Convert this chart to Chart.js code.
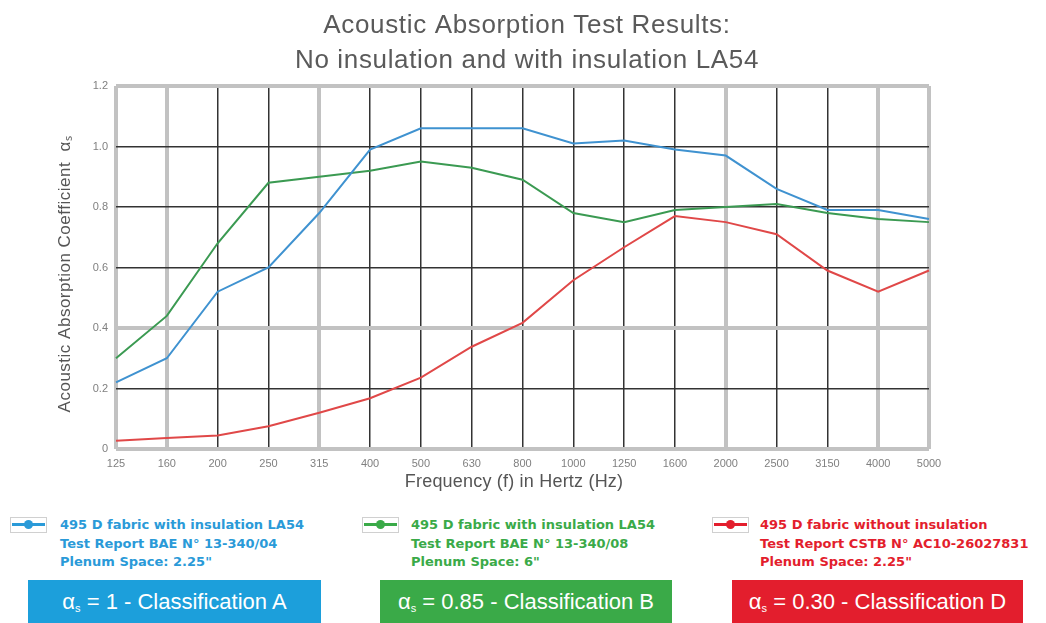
<!DOCTYPE html>
<html><head><meta charset="utf-8">
<script src="https://cdn.jsdelivr.net/npm/chart.js@4.4.1/dist/chart.umd.min.js"></script>
<style>
body{margin:0;background:#fff;width:1046px;height:623px;overflow:hidden;position:relative;font-family:"Liberation Sans",Arial,sans-serif;}
#wrap{position:absolute;left:0;top:0;width:1046px;height:500px;}
.icon{position:absolute;top:517px;width:35px;height:14px;border:1px solid #d0d0d0;background:#fff;}
.icon .ln{position:absolute;left:1px;right:1px;top:5px;height:3px;}
.icon .dt{position:absolute;left:13px;top:2px;width:9px;height:9px;border-radius:50%;}
.txt{position:absolute;top:516px;font-family:"DejaVu Sans",Verdana,sans-serif;font-weight:bold;font-size:13px;line-height:18.5px;white-space:nowrap;}
.box{position:absolute;top:580px;height:50px;color:#fff;font-size:22px;line-height:44px;text-align:center;white-space:nowrap;}
.box sub{font-size:11px;vertical-align:-3px;}
</style>
</head><body>
<div id="wrap"><canvas id="c" width="1046" height="500"></canvas></div>

<div class="icon" style="left:10px"><div class="ln" style="background:#2a9ad8"></div><div class="dt" style="background:#2a9ad8"></div></div>
<div class="txt" style="left:60px;color:#2a9ad8">495 D fabric with insulation LA54<br>Test Report BAE N° 13-340/04<br>Plenum Space: 2.25"</div>
<div class="box" style="left:28px;width:293px;background:#1c9fdb">α<sub>s</sub> = 1 - Classification A</div>

<div class="icon" style="left:362px"><div class="ln" style="background:#3aaa48"></div><div class="dt" style="background:#3aaa48"></div></div>
<div class="txt" style="left:411px;color:#3aaa48">495 D fabric with insulation LA54<br>Test Report BAE N° 13-340/08<br>Plenum Space: 6"</div>
<div class="box" style="left:380px;width:292px;background:#3aaa48">α<sub>s</sub> = 0.85 - Classification B</div>

<div class="icon" style="left:712px"><div class="ln" style="background:#e31e2d"></div><div class="dt" style="background:#e31e2d"></div></div>
<div class="txt" style="left:760px;color:#e31e2d">495 D fabric without insulation<br>Test Report CSTB N° AC10-26027831<br>Plenum Space: 2.25"</div>
<div class="box" style="left:732px;width:291px;background:#e31e2d">α<sub>s</sub> = 0.30 - Classification D</div>

<script>
const frequencies = ['125','160','200','250','315','400','500','630','800','1000','1250','1600','2000','2500','3150','4000','5000'];
const withInsulation225 = [0.22,0.30,0.52,0.60,0.78,0.99,1.06,1.06,1.06,1.01,1.02,0.99,0.97,0.86,0.79,0.79,0.76];
const withInsulation6 = [0.30,0.44,0.68,0.88,0.90,0.92,0.95,0.93,0.89,0.78,0.75,0.79,0.80,0.81,0.78,0.76,0.75];
const withoutInsulation = [0.027,0.036,0.045,0.075,0.12,0.168,0.236,0.338,0.417,0.558,0.667,0.77,0.75,0.71,0.59,0.52,0.59];
const yTickLabels = ['0','0.2','0.4','0.6','0.8','1.0','1.2'];
const seriesNames = ['495 D fabric with insulation LA54 (2.25")','495 D fabric with insulation LA54 (6")','495 D fabric without insulation (2.25")'];
const titleLines = ['Acoustic Absorption Test Results:','No insulation and with insulation LA54'];
const xTitle = 'Frequency (f) in Hertz (Hz)';
const yTitle = 'Acoustic Absorption Coefficient  αₛ';

const grayX = [0,1,4,12,15,16];
const grayY = [0,2,6];
const FONT = '"Liberation Sans", Arial, sans-serif';

const titlesPlugin = {
  id: 'titles',
  afterDraw(chart) {
    const ctx = chart.ctx;
    ctx.save();
    ctx.textAlign = 'center';
    ctx.textBaseline = 'middle';
    ctx.fillStyle = '#5a5a5a';
    ctx.font = '26px ' + FONT;
    ctx.letterSpacing = '0.65px';
    ctx.fillText(titleLines[0], 527, 26);
    ctx.fillText(titleLines[1], 527, 61);
    ctx.fillStyle = '#555';
    ctx.font = '18px ' + FONT;
    ctx.letterSpacing = '0.2px';
    ctx.fillText(xTitle, 514, 482);
    ctx.font = '17px ' + FONT;
    ctx.letterSpacing = '0.5px';
    ctx.translate(65, 274);
    ctx.rotate(-Math.PI / 2);
    ctx.fillText(yTitle, 0, 0);
    ctx.restore();
  }
};

new Chart(document.getElementById('c'), {
  type: 'line',
  data: {
    labels: frequencies,
    datasets: [
      {label: seriesNames[0], data: withInsulation225, borderColor:'#3f92d0', borderWidth:2, pointRadius:0, tension:0},
      {label: seriesNames[1], data: withInsulation6, borderColor:'#3b9a52', borderWidth:2, pointRadius:0, tension:0},
      {label: seriesNames[2], data: withoutInsulation, borderColor:'#e04848', borderWidth:2, pointRadius:0, tension:0}
    ]
  },
  options: {
    responsive:false, animation:false,
    layout:{padding:{left:0,right:117,top:86,bottom:0}},
    plugins:{ legend:{display:false}, tooltip:{enabled:false}, title:{display:false} },
    scales:{
      x:{
        offset:false,
        border:{display:false},
        grid:{drawTicks:false, offset:false,
          color: c => grayX.includes(c.index) ? '#c2c2c2' : '#333333',
          lineWidth: c => grayX.includes(c.index) ? 4 : 1.5},
        ticks:{color:'#808080', font:{family:FONT, size:11}, padding:8, maxRotation:0, autoSkip:false},
        afterFit: s => { s.height = 51; }
      },
      y:{
        min:0, max:1.2,
        border:{display:false},
        grid:{drawTicks:false,
          color: c => grayY.includes(c.index) ? '#c2c2c2' : '#333333',
          lineWidth: c => grayY.includes(c.index) ? 4 : 1.5},
        ticks:{stepSize:0.2, color:'#808080', font:{family:FONT, size:11}, padding:8,
          callback:(v,i) => yTickLabels[i]},
        afterFit: s => { s.width = 116; }
      }
    }
  },
  plugins:[titlesPlugin]
});
</script>
</body></html>
